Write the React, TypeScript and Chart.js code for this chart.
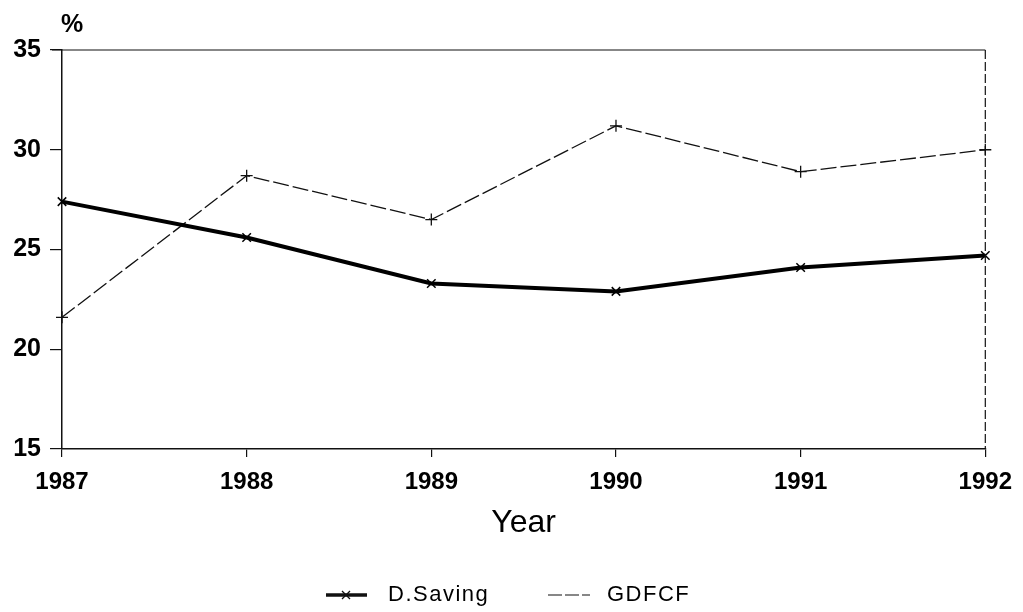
import React, { useEffect, useRef } from "react";
import { Chart, registerables } from "chart.js";

Chart.register(...registerables);

const years = ["1987", "1988", "1989", "1990", "1991", "1992"];
const dSaving = [27.4, 25.6, 23.3, 22.9, 24.1, 24.7];
const gdfcf = [21.6, 28.7, 26.5, 31.2, 28.9, 30.0];
const yTicks = [15, 20, 25, 30, 35];
const seriesNames = ["D.Saving", "GDFCF"];

const FONT = "'Liberation Sans', Arial, sans-serif";

const extrasPlugin = {
  id: "extras",
  afterDraw(chart: any) {
    const { ctx, chartArea } = chart;
    ctx.save();
    // top & right frame
    ctx.strokeStyle = "#111";
    ctx.lineWidth = 1.2;
    ctx.beginPath();
    ctx.moveTo(chartArea.left - 10, chartArea.top);
    ctx.lineTo(chartArea.right, chartArea.top);
    ctx.stroke();
    ctx.setLineDash([9, 3]);
    ctx.beginPath();
    ctx.moveTo(chartArea.right, chartArea.top);
    ctx.lineTo(chartArea.right, chartArea.bottom);
    ctx.stroke();
    ctx.setLineDash([]);
    // % label
    ctx.fillStyle = "#000";
    ctx.font = `bold 25px ${FONT}`;
    ctx.textAlign = "center";
    ctx.textBaseline = "middle";
    ctx.fillText("%", 72, 25);
    // legend
    const ly = 595;
    ctx.font = `22px ${FONT}`;
    (ctx as any).letterSpacing = "1.5px";
    ctx.textAlign = "left";
    // D.Saving
    ctx.lineWidth = 3.5;
    ctx.beginPath();
    ctx.moveTo(326, ly);
    ctx.lineTo(367, ly);
    ctx.stroke();
    ctx.lineWidth = 1.3;
    ctx.beginPath();
    ctx.moveTo(342, ly + 4);
    ctx.lineTo(350, ly - 4);
    ctx.moveTo(342, ly - 4);
    ctx.lineTo(350, ly + 4);
    ctx.stroke();
    ctx.fillText(seriesNames[0], 388, ly);
    // GDFCF
    ctx.lineWidth = 1.2;
    ctx.setLineDash([14, 3]);
    ctx.beginPath();
    ctx.moveTo(548, ly);
    ctx.lineTo(590, ly);
    ctx.stroke();
    ctx.setLineDash([]);
    ctx.fillText(seriesNames[1], 607, ly);
    ctx.restore();
  },
};

export default function App() {
  const ref = useRef<HTMLCanvasElement>(null);
  useEffect(() => {
    document.body.style.margin = "0";
    const chart = new Chart(ref.current!, {
      type: "line",
      data: {
        labels: years,
        datasets: [
          {
            label: seriesNames[0],
            data: dSaving,
            borderColor: "#000",
            backgroundColor: "#000",
            borderWidth: 4,
            pointStyle: "crossRot",
            pointRadius: 6,
            pointBorderWidth: 1.5,
            pointBorderColor: "#000",
            tension: 0,
            clip: false as any,
          },
          {
            label: seriesNames[1],
            data: gdfcf,
            borderColor: "#111",
            backgroundColor: "#111",
            borderWidth: 1.3,
            borderDash: [16, 4],
            pointStyle: "cross",
            pointRadius: 6,
            pointBorderWidth: 1.3,
            pointBorderColor: "#111",
            tension: 0,
            clip: false as any,
          },
        ],
      },
      options: {
        animation: false,
        responsive: true,
        maintainAspectRatio: false,
        layout: { padding: { top: 50, right: 37, left: 0, bottom: 70 } },
        plugins: { legend: { display: false }, tooltip: { enabled: false } },
        scales: {
          x: {
            type: "category",
            offset: false,
            grid: { display: true, drawOnChartArea: false, tickLength: 8, color: "#111", lineWidth: 1.2 },
            border: { display: true, color: "#111", width: 1.5 },
            ticks: {
              color: "#000",
              font: { family: FONT, size: 24, weight: "bold" },
              padding: 11,
              maxRotation: 0,
              autoSkip: false,
            },
            title: {
              display: true,
              text: "Year",
              color: "#000",
              font: { family: FONT, size: 32 },
              padding: { top: 0, bottom: 0 },
            },
            afterFit(scale: any) {
              scale.height = 93;
            },
          },
          y: {
            min: 15,
            max: 35,
            afterBuildTicks(scale: any) {
              scale.ticks = yTicks.map((v) => ({ value: v }));
            },
            grid: { display: true, drawOnChartArea: false, tickLength: 12, color: "#111", lineWidth: 1.2 },
            border: { display: true, color: "#111", width: 1.5 },
            ticks: {
              color: "#000",
              font: { family: FONT, size: 25, weight: "bold" },
              padding: 9,
            },
            afterFit(scale: any) {
              scale.width = 62;
            },
          },
        },
      },
      plugins: [extrasPlugin],
    });
    return () => chart.destroy();
  }, []);
  return (
    <div style={{ position: "fixed", left: 0, top: 0, width: 1023, height: 612 }}>
      <canvas ref={ref} />
    </div>
  );
}
